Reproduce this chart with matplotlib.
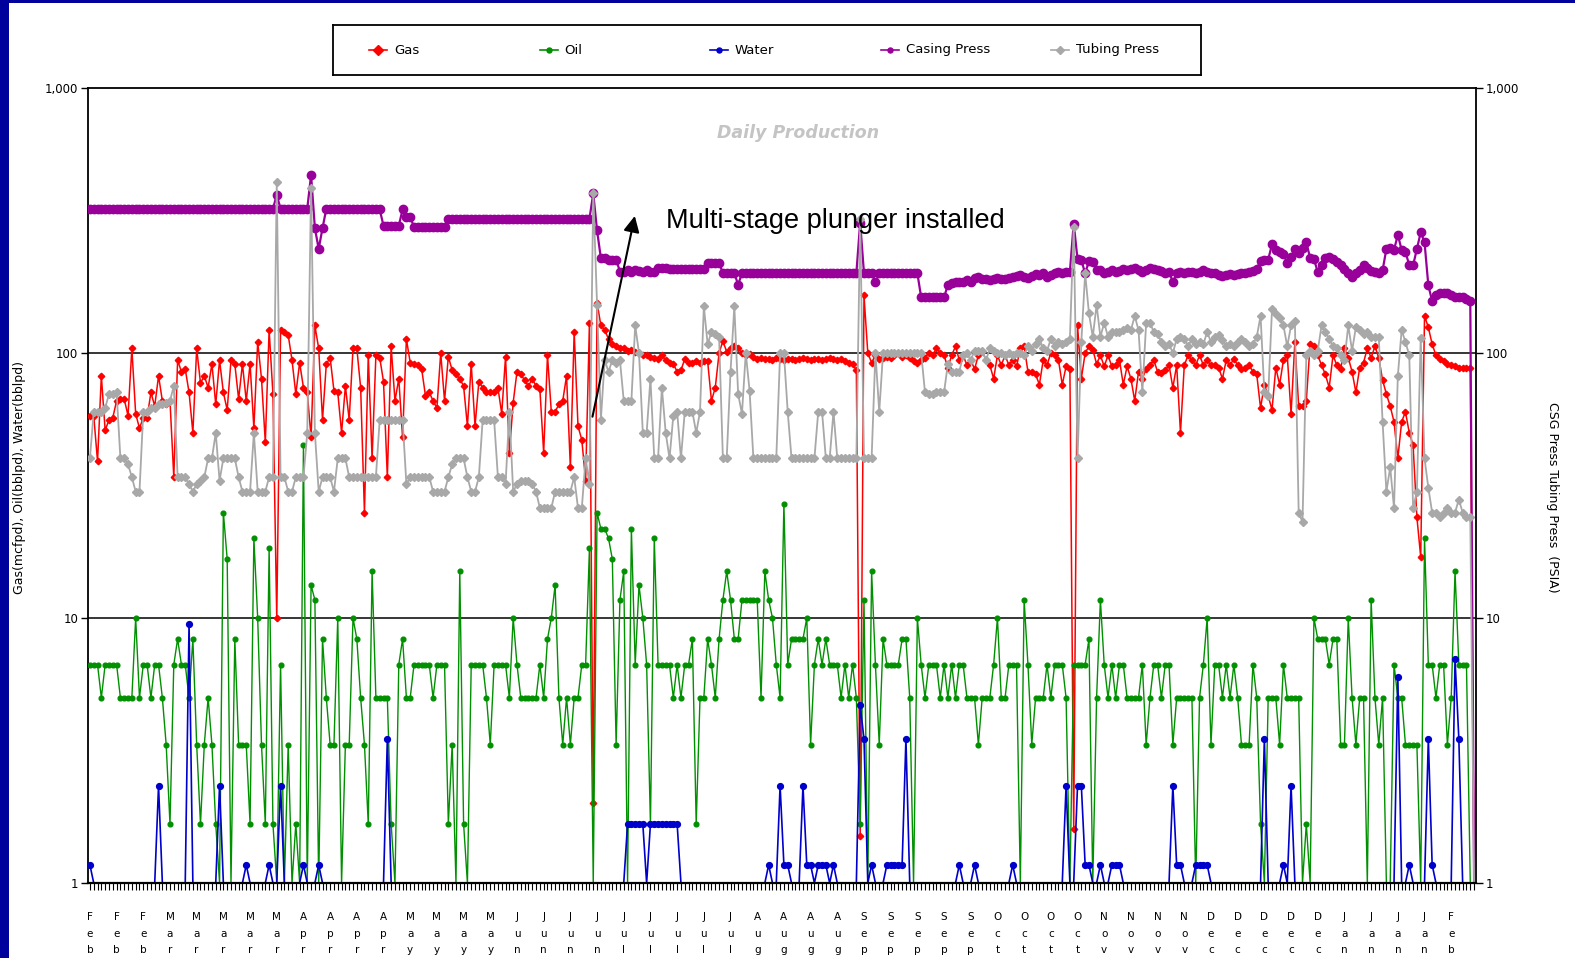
import numpy as np
import matplotlib
matplotlib.use("Agg")
import matplotlib.pyplot as plt
from matplotlib.patches import Rectangle
from matplotlib.ticker import NullLocator

# ---------------- data (daily values) ----------------
gas = [
    58, 58, 39, 82, 51, 56, 57, 66, 67, 67,
    58, 104, 59, 52, 57, 57, 71, 63, 82, 66,
    64, 66, 34, 94, 85, 87, 71, 50, 104, 77,
    82, 74, 91, 64, 94, 71, 61, 94, 91, 67,
    91, 66, 91, 52, 110, 80, 46, 122, 70, 10,
    122, 120, 117, 94, 70, 92, 74, 71, 48, 127,
    104, 56, 91, 96, 72, 71, 50, 75, 56, 104,
    104, 74, 25,
    98, 40, 98, 96, 78, 34, 106,
    66, 80, 48, 113, 92, 91, 90, 87, 69, 71,
    66, 62, 100, 66, 97, 86, 83, 80, 75, 53,
    91, 53, 78, 74, 71, 71, 71, 74, 59, 97,
    42, 65, 85, 83, 79, 75, 80, 75, 73, 42,
    98, 60, 60, 64, 66, 82, 37, 120, 53, 47,
    33, 130, 2, 155, 127, 122, 113, 108, 106, 104,
    104, 102, 103, 101, 100, 98, 98, 97,
    96, 95, 98, 94, 92, 91, 85, 86, 95, 92,
    92, 93, 92, 93, 93, 66, 74, 100, 111, 101,
    104, 106, 104, 100, 98, 99, 97, 95, 96, 95,
    95, 94, 96, 95, 94, 95, 95, 94, 95, 96,
    95, 94, 95, 95, 94, 95, 96, 95, 94, 95,
    93, 92, 91, 86,
    1.5,
    165,
    100, 92, 98, 95, 96, 97, 96, 98, 100, 97,
    98, 96, 93, 92, 94, 96, 100, 98,
    104, 100, 98, 88, 98, 106, 94, 98, 90, 94,
    87, 98, 102, 94, 90, 80, 98, 90, 98, 90,
    94, 89, 104, 106, 85, 85, 83, 76, 94, 90,
    100, 98, 94, 76, 89, 87, 1.6, 127, 80, 100,
    106, 103, 91, 98, 89, 98, 89, 90, 94, 76,
    89, 80, 66, 85, 80, 87, 90, 94, 85, 84,
    86, 90, 74, 90, 50, 90, 98, 94, 90, 98,
    90, 94, 90, 90,
    88, 80, 94, 90, 95, 90, 87, 88, 90, 85,
    83, 62, 76, 69, 61, 88, 76, 94, 98, 59,
    110, 63, 63, 66, 108, 106, 98, 90, 83, 74,
    98, 90, 87, 104, 96, 85, 71, 88, 92, 104,
    96, 106, 96, 79, 70, 63, 55, 40, 55, 60,
    50, 45, 24, 17, 138, 125, 108, 98, 95, 93,
    91, 90, 89, 88, 88, 88, 88, 0,
]

oil = [
    6.67, 6.67, 6.67, 5, 6.67, 6.67, 6.67, 6.67, 5, 5,
    5, 5, 10, 5, 6.67, 6.67, 5, 6.67, 6.67, 5,
    3.33, 1.67, 6.67, 8.33, 6.67, 6.67, 5, 8.33, 3.33, 1.67,
    3.33, 5, 3.33, 1.67, 0, 25, 16.7, 0, 8.33, 3.33,
    3.33, 3.33, 1.67, 20, 10, 3.33, 1.67, 18.3, 1.67, 0,
    6.67, 0, 3.33, 0, 1.67, 0, 45, 0, 13.3, 11.7,
    0, 8.33, 5, 3.33, 3.33, 10, 0, 3.33, 3.33, 10,
    8.33, 5, 3.33,
    1.67, 15, 5, 5, 5, 5, 1.67,
    0, 6.67, 8.33, 5, 5, 6.67, 6.67, 6.67, 6.67, 6.67,
    5, 6.67, 6.67, 6.67, 1.67, 3.33, 0, 15, 1.67, 0,
    6.67, 6.67, 6.67, 6.67, 5, 3.33, 6.67, 6.67, 6.67, 6.67,
    5, 10, 6.67, 5, 5, 5, 5, 5, 6.67, 5,
    8.33, 10, 13.3, 5, 3.33, 5, 3.33, 5, 5, 6.67,
    6.67, 18.3, 0, 25, 21.7, 21.7, 20, 16.7, 3.33, 11.7,
    15, 0, 21.7, 6.67, 13.3, 10, 6.67, 1.67,
    20, 6.67, 6.67, 6.67, 6.67, 5, 6.67, 5, 6.67, 6.67,
    8.33, 1.67, 5, 5, 8.33, 6.67, 5, 8.33, 11.7, 15,
    11.7, 8.33, 8.33, 11.7, 11.7, 11.7, 11.7, 11.7, 5, 15,
    11.7, 10, 6.67, 5, 27, 6.67, 8.33, 8.33, 8.33, 8.33,
    10, 3.33, 6.67, 8.33, 6.67, 8.33, 6.67, 6.67, 6.67, 5,
    6.67, 5, 6.67, 5,
    1.67,
    11.7,
    0, 15, 6.67, 3.33, 8.33, 6.67, 6.67, 6.67, 6.67, 8.33,
    8.33, 5, 0, 10, 6.67, 5, 6.67, 6.67,
    6.67, 5, 6.67, 5, 6.67, 5, 6.67, 6.67, 5, 5,
    5, 3.33, 5, 5, 5, 6.67, 10, 5, 5, 6.67,
    6.67, 6.67, 0, 11.7, 6.67, 3.33, 5, 5, 5, 6.67,
    5, 6.67, 6.67, 6.67, 5, 0, 6.67, 6.67, 6.67, 6.67,
    8.33, 0, 5, 11.7, 6.67, 5, 6.67, 5, 6.67, 6.67,
    5, 5, 5, 5, 6.67, 3.33, 5, 6.67, 6.67, 5,
    6.67, 6.67, 3.33, 5, 5, 5, 5, 5, 0, 5,
    6.67, 10, 3.33, 6.67,
    6.67, 5, 6.67, 5, 6.67, 5, 3.33, 3.33, 3.33, 6.67,
    5, 1.67, 0, 5, 5, 5, 3.33, 6.67, 5, 5,
    5, 5, 0, 1.67, 0, 10, 8.33, 8.33, 8.33, 6.67,
    8.33, 8.33, 3.33, 3.33, 10, 5, 3.33, 5, 5, 0,
    11.7, 5, 3.33, 5, 0, 0, 6.67, 5, 5, 3.33,
    3.33, 3.33, 3.33, 0, 20, 6.67, 6.67, 5, 6.67, 6.67,
    3.33, 5, 15, 6.67, 6.67, 6.67, 0, 0,
]

# water is zero on most days: days with water and their values
water_days = [0, 18, 26, 34, 41, 47, 50, 56, 60, 78,
              141, 142, 143, 144, 145, 147, 148, 149, 150, 151, 152, 153, 154,
              178, 181, 182, 183, 187, 188, 189, 191, 192, 193, 195,
              202, 203, 205, 209, 210, 211, 212, 213, 214,
              228, 232, 242, 256, 259, 260, 261, 262, 265, 268, 269, 270,
              284, 285, 286, 290, 291, 292, 293,
              308, 313, 315, 343, 346, 351, 352, 358, 359]
water_vals = [1.17, 2.33, 9.5, 2.33, 1.17, 1.17, 2.33, 1.17, 1.17, 3.5,
              1.67, 1.67, 1.67, 1.67, 1.67, 1.67, 1.67, 1.67, 1.67, 1.67, 1.67, 1.67, 1.67,
              1.17, 2.33, 1.17, 1.17, 2.33, 1.17, 1.17, 1.17, 1.17, 1.17, 1.17,
              4.7, 3.5, 1.17, 1.17, 1.17, 1.17, 1.17, 1.17, 3.5,
              1.17, 1.17, 1.17, 2.33, 2.33, 2.33, 1.17, 1.17, 1.17, 1.17, 1.17, 1.17,
              2.33, 1.17, 1.17, 1.17, 1.17, 1.17, 1.17,
              3.5, 1.17, 2.33, 6.0, 1.17, 3.5, 1.17, 7.0, 3.5]

casing = [
    350, 350, 350, 350, 350, 350, 350, 350, 350, 350,
    350, 350, 350, 350, 350, 350, 350, 350, 350, 350,
    350, 350, 350, 350, 350, 350, 350, 350, 350, 350,
    350, 350, 350, 350, 350, 350, 350, 350, 350, 350,
    350, 350, 350, 350, 350, 350, 350, 350, 350, 395,
    350, 350, 350, 350, 350, 350, 350, 350, 470, 296,
    247, 296, 350, 350, 350, 350, 350, 350, 350, 350,
    350, 350, 350,
    348, 348, 348, 348, 302, 302, 302,
    302, 302, 348, 327, 327, 298, 298, 298, 298, 298,
    298, 298, 298, 298, 321, 321, 321, 321, 321, 321,
    321, 321, 321, 321, 321, 321, 321, 321, 321, 321,
    321, 321, 321, 321, 321, 321, 321, 321, 321, 321,
    321, 321, 321, 321, 321, 321, 321, 321, 321, 321,
    321, 321, 400, 290, 228, 228, 225, 225, 225, 203,
    203, 205, 203, 206, 204, 203, 205, 203,
    202, 210, 210, 210, 208, 208, 208, 208, 208, 208,
    208, 208, 208, 208, 219, 219, 219, 219, 200, 200,
    200, 200, 181, 200, 200, 200, 200, 200, 200, 200,
    200, 200, 200, 200, 200, 200, 200, 200, 200, 200,
    200, 200, 200, 200, 200, 200, 200, 200, 200, 200,
    200, 200, 200, 200,
    310,
    200,
    200, 200, 185, 200, 200, 200, 200, 200, 200, 200,
    200, 200, 200, 200, 162, 162, 162, 162,
    162, 162, 162, 181, 183, 185, 186, 186, 188, 186,
    192, 194, 190, 190, 188, 190, 192, 190, 190, 192,
    194, 196, 197, 194, 192, 196, 198, 197, 200, 194,
    197, 200, 202, 200, 202, 203, 308, 226, 224, 200,
    222, 220, 205, 205, 200, 203, 205, 202, 204, 207,
    205, 207, 209, 206, 203, 206, 209, 208, 206, 204,
    200, 203, 185, 200, 202, 200, 202, 203, 201, 203,
    205, 202, 200, 200,
    197, 196, 197, 198, 197, 199, 200, 200, 202, 204,
    208, 222, 224, 225, 257, 245, 240, 236, 219, 230,
    247, 238, 250, 262, 228, 226, 202, 215, 228, 230,
    226, 220, 214, 208, 200, 194, 200, 206, 215, 210,
    204, 202, 200, 205, 247, 250, 245, 279, 245, 240,
    215, 214, 247, 285, 262, 180, 157, 165, 168, 169,
    169, 166, 163, 162, 162, 160, 157, 0,
]

tubing = [
    40, 60, 60, 60, 62, 70, 70, 71, 40, 40,
    38, 34, 30, 30, 60, 60, 62, 62, 64, 64,
    65, 66, 75, 34, 34, 34, 32, 30, 32, 33,
    34, 40, 40, 50, 33, 40, 40, 40, 40, 34,
    30, 30, 30, 50, 30, 30, 30, 34, 34, 440,
    34, 34, 30, 30, 34, 34, 34, 50, 420, 50,
    30, 34, 34, 34, 30, 40, 40, 40, 34, 34,
    34, 34, 34,
    34, 34, 34, 56, 56, 56, 56,
    56, 56, 56, 32, 34, 34, 34, 34, 34, 34,
    30, 30, 30, 30, 34, 38, 40, 40, 40, 34,
    30, 30, 34, 56, 56, 56, 56, 34, 34, 32,
    60, 30, 32, 33, 33, 33, 32, 30, 26, 26,
    26, 26, 30, 30, 30, 30, 30, 34, 26, 26,
    40, 32, 400, 152, 56, 94, 85, 94, 92, 94,
    66, 66, 66, 127, 100, 50, 50, 80,
    40, 40, 74, 50, 40, 58, 60, 40, 60, 60,
    60, 50, 60, 150, 108, 120, 118, 115, 40, 40,
    85, 150, 70, 59, 100, 72, 40, 40, 40, 40,
    40, 40, 40, 100, 100, 60, 40, 40, 40, 40,
    40, 40, 40, 60, 60, 40, 40, 60, 40, 40,
    40, 40, 40, 40,
    320,
    40,
    40, 40, 100, 60, 100, 100, 100, 100, 100, 100,
    100, 100, 100, 100, 100, 71, 70, 70,
    71, 71, 71, 91, 85, 85, 85, 98, 100, 94,
    102, 102, 102, 94, 104, 102, 100, 100, 98, 100,
    98, 100, 100, 98, 106, 102, 108, 113, 104, 102,
    113, 106, 110, 108, 110, 113, 300, 40, 110, 200,
    141, 115, 152, 115, 130, 115, 120, 120, 120, 122,
    124, 122, 138, 122, 71, 130, 130, 120, 118, 110,
    106, 108, 100, 113, 115, 113, 106, 113, 108, 110,
    108, 120, 110, 115,
    117, 112, 106, 108, 106, 110, 113, 110, 106, 108,
    115, 138, 71, 69, 146, 140, 136, 127, 106, 127,
    132, 25, 23, 98, 102, 98, 102, 127, 120, 113,
    106, 104, 98, 94, 127, 102, 125, 122, 118, 120,
    115, 115, 115, 55, 30, 37, 26, 82, 122, 110,
    98, 26, 30, 114, 40, 31, 25, 25, 24, 25,
    26, 25, 25, 28, 25, 24, 24, 0,
]

week_labels = ["Feb", "Feb", "Feb", "Mar", "Mar", "Mar", "Mar", "Mar",
               "Apr", "Apr", "Apr", "Apr", "May", "May", "May", "May",
               "Jun", "Jun", "Jun", "Jun", "Jul", "Jul", "Jul", "Jul", "Jul",
               "Aug", "Aug", "Aug", "Aug", "Sep", "Sep", "Sep", "Sep", "Sep",
               "Oct", "Oct", "Oct", "Oct", "Nov", "Nov", "Nov", "Nov",
               "Dec", "Dec", "Dec", "Dec", "Dec", "Jan", "Jan", "Jan", "Jan", "Feb"]

series_names = ["Gas", "Oil", "Water", "Casing Press", "Tubing Press"]
y_ticks = [1, 10, 100, 1000]
y_ticklabels = ["1", "10", "100", "1,000"]

# ---------------- figure ----------------
N = len(gas)
assert len(oil) == N and len(casing) == N and len(tubing) == N, (len(gas), len(oil), len(casing), len(tubing))
days = np.arange(N)
water = np.zeros(N)
water[np.array(water_days)] = water_vals

W, H = 1575, 958
fig = plt.figure(figsize=(W / 100, H / 100), dpi=100)
fig.patch.set_facecolor("white")
fig.patches.append(Rectangle((0, 0), 9 / W, 1, transform=fig.transFigure,
                             facecolor="#00009C", edgecolor="none", zorder=0))
fig.patches.append(Rectangle((0, 1 - 3 / H), 1, 3 / H, transform=fig.transFigure,
                             facecolor="#00009C", edgecolor="none", zorder=0))

ax = fig.add_axes([88 / W, 1 - 883 / H, (1476 - 88) / W, (883 - 88) / H])
ax.set_yscale("log")
ax.set_ylim(1, 1000)
ax.set_xlim(-0.5, N - 0.5)

styles = [
    dict(color="#FF0000", marker="D", ms=3.3, lw=1.1, z=3),
    dict(color="#009000", marker="o", ms=3.4, lw=1.0, z=4),
    dict(color="#0000CC", marker="o", ms=4.2, lw=1.2, z=5),
    dict(color="#990099", marker="o", ms=6.0, lw=1.6, z=6),
    dict(color="#A8A8A8", marker="D", ms=3.6, lw=1.3, z=7),
]
all_series = [gas, oil, water, casing, tubing]
for vals, st in zip(all_series, styles):
    v = np.asarray(vals, dtype=float)
    # zero days are drawn down on the bottom of the log axis
    line_v = np.where(v > 0, v, 1.0)
    ax.plot(days, line_v, color=st["color"], lw=st["lw"], zorder=st["z"])
    m = v > 0
    ax.plot(days[m], v[m], ls="none", marker=st["marker"], ms=st["ms"],
            color=st["color"], mec=st["color"], zorder=st["z"])

for g in (10, 100):
    ax.axhline(g, color="black", lw=1.1, zorder=1)

for s in ax.spines.values():
    s.set_linewidth(1.3)
    s.set_color("black")
ax.spines["bottom"].set_zorder(9)
ax.spines["bottom"].set_linewidth(1.6)

ax.set_yticks(y_ticks)
ax.set_yticklabels(y_ticklabels)
ax.yaxis.set_minor_locator(NullLocator())
ax.tick_params(axis="y", which="major", direction="out", length=5, width=1,
               left=True, right=True, labelleft=True, labelright=True, labelsize=8.5, pad=2)
ax.set_xticks(days)
ax.set_xticklabels([])
ax.xaxis.set_minor_locator(NullLocator())
ax.tick_params(axis="x", which="major", direction="out", length=5, width=0.8, bottom=True, top=False)

# stacked month labels, one per week
row_y = [(883 - 917) / 795, (883 - 934) / 795, (883 - 950) / 795]
for k, lab in enumerate(week_labels):
    for j, ch in enumerate(lab):
        ax.text(7 * k, row_y[j], ch, transform=ax.get_xaxis_transform(),
                ha="center", va="center", fontsize=7.5, clip_on=False)

# title inside plot area
fig.text(798 / W, 1 - 133 / H, "Daily Production", color="#C4C4C4",
         fontsize=12.5, fontstyle="italic", fontweight="bold", ha="center", va="center")

# annotation
ax.annotate("", xy=(142.9, 329), xytext=(131.8, 57.5),
            arrowprops=dict(arrowstyle="-|>", color="black", lw=1.5,
                            mutation_scale=24, shrinkA=0, shrinkB=0), zorder=10)
ax.text(151.0, 315, "Multi-stage plunger installed", fontsize=19.5,
        family=["Liberation Sans", "DejaVu Sans"], ha="left", va="center", zorder=10)

# axis titles
fig.text(20 / W, 1 - 477 / H, "Gas(mcfpd), Oil(bblpd), Water(bblpd)",
         rotation=90, ha="center", va="center", fontsize=9)
fig.text(1553 / W, 1 - 497 / H, "CSG Press Tubing Press  (PSIA)",
         rotation=-90, ha="center", va="center", fontsize=9)

# legend box
leg = fig.add_axes([333 / W, 1 - 75 / H, 868 / W, 50 / H])
leg.set_xlim(0, 868)
leg.set_ylim(0, 50)
leg.set_xticks([])
leg.set_yticks([])
for s in leg.spines.values():
    s.set_linewidth(1.3)
for i, (name, st) in enumerate(zip(series_names, styles)):
    cx = 45 + 170.5 * i
    leg.plot([cx - 9, cx + 9], [25, 25], color=st["color"], lw=1.2)
    leg.plot([cx], [25], marker=st["marker"], ms=(4.8 if i == 0 else 3.6),
             color=st["color"], ls="none")
    leg.text(cx + 16, 25, name, ha="left", va="center", fontsize=9.5)

fig.savefig("out.png", dpi=100, facecolor="white")
